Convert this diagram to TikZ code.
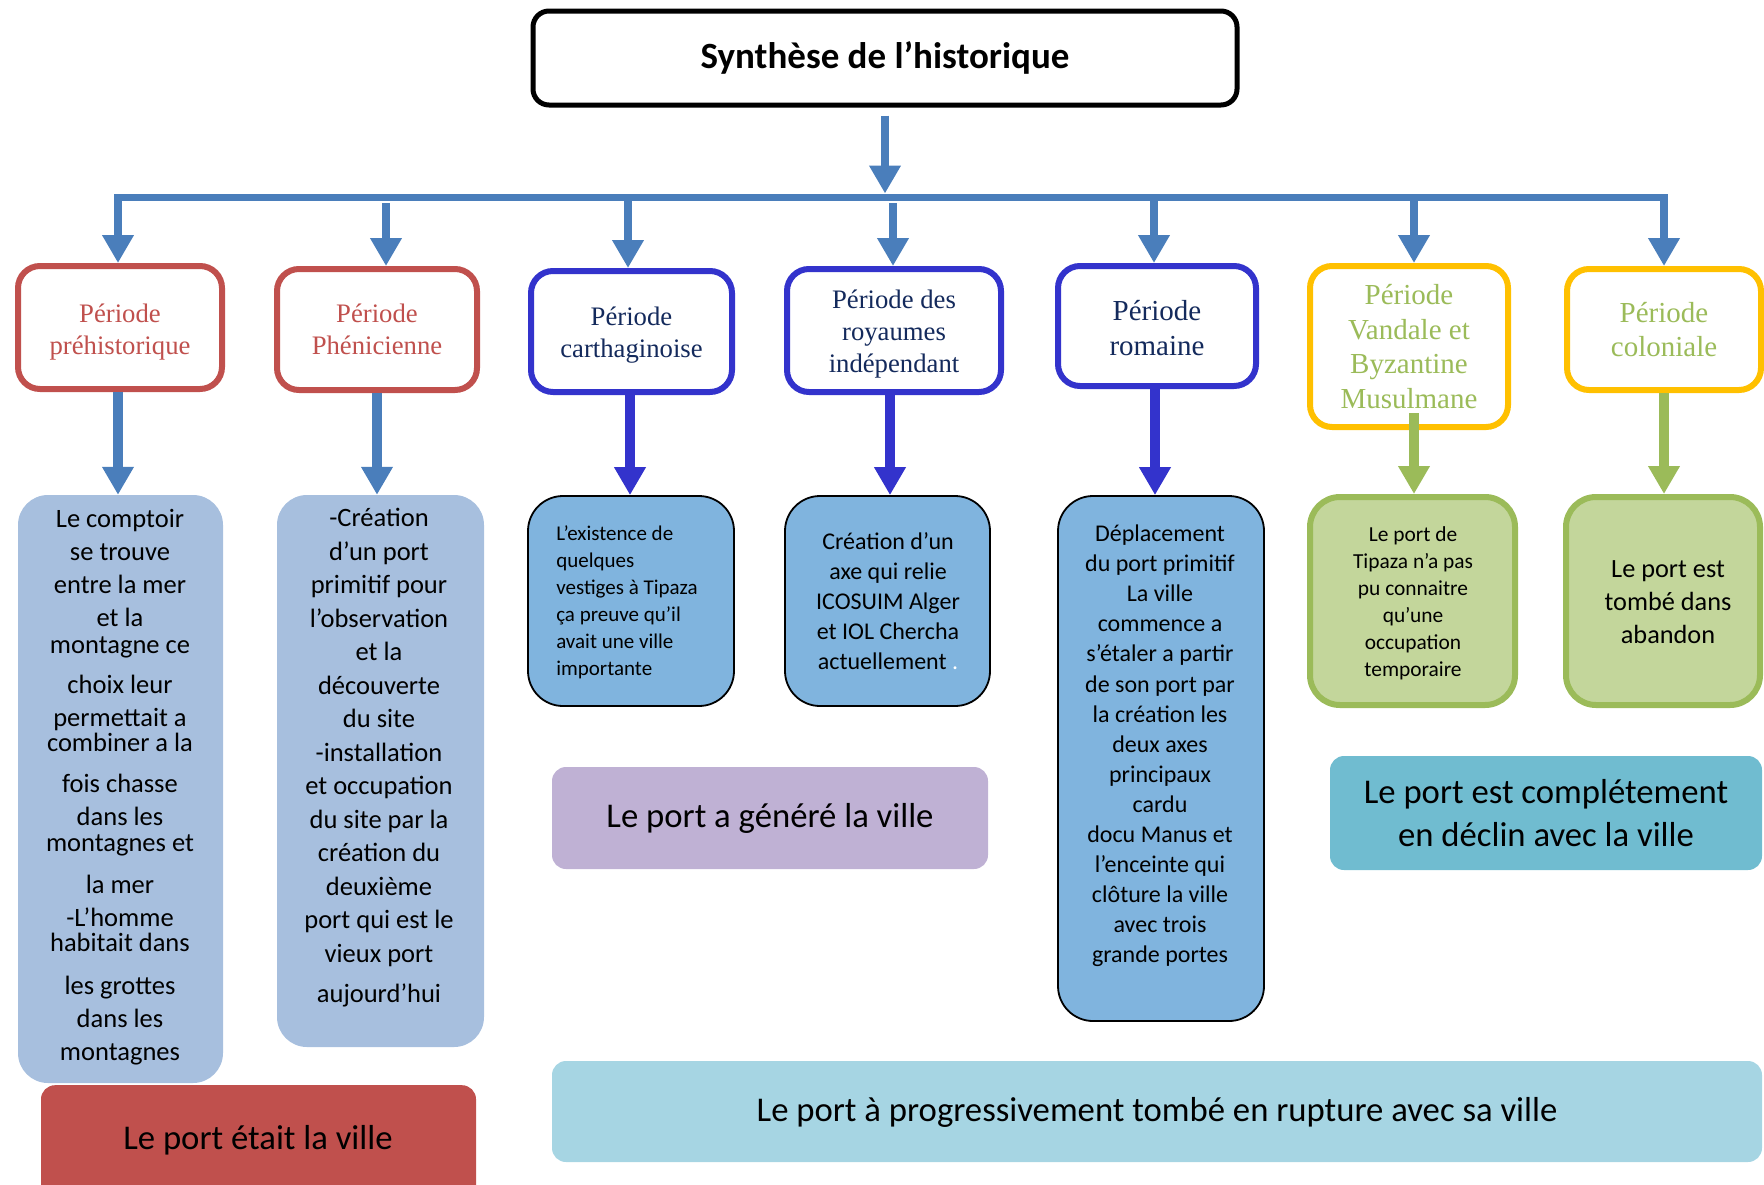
\documentclass[tikz,border=0pt]{standalone}
\usepackage{fontspec}
\setmainfont{Carlito}
\newfontfamily\serifp{Liberation Serif}
\usetikzlibrary{arrows.meta}
\definecolor{arrblue}{HTML}{4A7EBB}
\definecolor{pred}{HTML}{C0504D}
\definecolor{pblue}{HTML}{3333CC}
\definecolor{pnavy}{HTML}{142A5C}
\definecolor{pyel}{HTML}{FFC000}
\definecolor{pgreen}{HTML}{9BBB59}
\definecolor{fsteel}{HTML}{A7BFDE}
\definecolor{fblue}{HTML}{80B4DE}
\definecolor{fgreen}{HTML}{C3D69B}
\definecolor{flav}{HTML}{BFB1D4}
\definecolor{fteal}{HTML}{70BCD0}
\definecolor{fcyan}{HTML}{A6D5E3}
\begin{document}
\begin{tikzpicture}[x=1pt,y=-1pt,
  box/.style={rectangle, inner sep=0pt},
  perbox/.style={box, draw, line width=6pt, rounded corners=22pt, fill=white, align=center},
  redper/.style={perbox, draw=pred, text=pred, font=\serifp\fontsize{26.7}{32}\selectfont},
  blueper/.style={perbox, draw=pblue, text=pnavy, font=\serifp\fontsize{26.7}{32}\selectfont},
  blueperb/.style={perbox, draw=pblue, text=pnavy, font=\serifp\fontsize{29}{34.5}\selectfont},
  yelper/.style={perbox, draw=pyel, text=pgreen, font=\serifp\fontsize{29}{34.5}\selectfont},
  steelbox/.style={box, fill=fsteel, rounded corners=30pt},
  bluebox/.style={box, draw=black, line width=1.8pt, fill=fblue, rounded corners=35pt},
  greenbox/.style={box, draw=pgreen, line width=6pt, fill=fgreen, rounded corners=30pt},
  sumbox/.style={box, rounded corners=14pt, align=center, font=\fontsize{34.7}{43}\selectfont},
  txt/.style={inner sep=0pt, align=center},
  toparr/.style={draw=arrblue, line width=8pt, -{Triangle[width=30pt,length=28pt]}},
  lowarr/.style={line width=10pt, -{Triangle[width=30pt,length=28pt]}}
]
\useasboundingbox (0,0) rectangle (1764,1184);
\clip (0,0) rectangle (1764,1184);

% title
\node[box, draw=black, line width=5pt, rounded corners=16pt, minimum width=704pt, minimum height=94pt,
      text height=28pt, text depth=8pt,
      font=\bfseries\fontsize{37}{40}\selectfont] (title) at (885,58) {Synthèse de l’historique};

% period boxes
\node[redper, minimum width=204pt, minimum height=123pt] (p1) at (120,327.5) {\rule{0pt}{27.7pt}Période\\préhistorique};
\node[redper, minimum width=200pt, minimum height=121pt] (p2) at (377,329.5) {Période\\Phénicienne};
\node[blueper, minimum width=201pt, minimum height=121pt] (p3) at (631.5,331.5) {\rule{0pt}{25.7pt}Période\\carthaginoise};
\node[blueper, minimum width=214pt, minimum height=123pt] (p4) at (894,330.5) {\rule{0pt}{25.7pt}Période des\\royaumes\\indépendant};
\node[blueperb, minimum width=198pt, minimum height=120pt] (p5) at (1157,326) {\rule{0pt}{24.5pt}Période\\romaine};
\node[yelper, minimum width=198pt, minimum height=161pt] (p6) at (1409,346.5) {Période\\Vandale et\\Byzantine\\Musulmane};
\node[yelper, minimum width=194pt, minimum height=121pt] (p7) at (1664,329.5) {Période\\coloniale};

% content boxes
\node[steelbox, minimum width=205pt, minimum height=588pt] (c1) at (120.5,789) {};
\node[steelbox, minimum width=207pt, minimum height=552pt] (c2) at (380.5,771) {};
\node[bluebox, minimum width=206pt, minimum height=210pt] (c3) at (631,601) {};
\node[bluebox, minimum width=205pt, minimum height=210pt] (c4) at (887.5,601) {};
\node[bluebox, minimum width=206pt, minimum height=525pt] (c5) at (1161,758.5) {};
\node[greenbox, minimum width=205pt, minimum height=208pt] (c6) at (1412.5,601) {};
\node[greenbox, minimum width=194pt, minimum height=208pt] (c7) at (1663,601) {};

% content texts
\node[txt, font=\fontsize{26.5}{33}\selectfont] (t1) at (120,787) {Le comptoir\\se trouve\\entre la mer\\et la\\[-6pt]montagne ce\\[7pt]choix leur\\permettait a\\[-8pt]combiner a la\\[8pt]fois chasse\\dans les\\[-7pt]montagnes et\\[9pt]la mer\\-L’homme\\[-8pt]habitait dans\\[10pt]les grottes\\dans les\\montagnes};
\node[txt, font=\fontsize{26.5}{33.5}\selectfont] (t2) at (379,758) {-Création\\d’un port\\primitif pour\\l’observation\\et la\\découverte\\du site\\-installation\\et occupation\\du site par la\\création du\\deuxième\\port qui est le\\vieux port\\[7pt]aujourd’hui};
\node[txt, align=left, font=\fontsize{21}{27}\selectfont] (t3) at (627,602) {L’existence de\\quelques\\vestiges à Tipaza\\ça preuve qu’il\\avait une ville\\importante};
\node[txt, font=\fontsize{24}{30}\selectfont] (t4) at (888,601.5) {Création d’un\\axe qui relie\\ICOSUIM Alger\\et IOL Chercha\\actuellement {\color{white}.}};
\node[txt, font=\fontsize{24}{30.1}\selectfont] (t5) at (1160,746) {Déplacement\\du port primitif\\La ville\\commence a\\s’étaler a partir\\de son port par\\la création les\\deux axes\\principaux\\cardu\\docu Manus et\\l’enceinte qui\\clôture la ville\\avec trois\\grande portes};
\node[txt, font=\fontsize{21.4}{27}\selectfont] (t6) at (1413,603) {Le port de\\Tipaza n’a pas\\pu connaitre\\qu’une\\occupation\\temporaire};
\node[txt, font=\fontsize{26.3}{33}\selectfont] (t7) at (1668,602.5) {Le port est\\tombé dans\\abandon};

% summary boxes
\node[sumbox, fill=flav, minimum width=436pt, minimum height=102pt, text height=24pt, text depth=6pt] (s1) at (770,818) {Le port a généré la ville};
\node[sumbox, fill=fteal, minimum width=432pt, minimum height=114pt] (s2) at (1546,813) {Le port est complétement\\en déclin avec la ville};
\node[sumbox, fill=pred, minimum width=435pt, minimum height=130pt, anchor=north] (s3) at (258.5,1085) {};
\node[txt, font=\fontsize{34.7}{43}\selectfont] (s3t) at (258,1140.5) {Le port était la ville};
\node[sumbox, fill=fcyan, minimum width=1210pt, minimum height=101pt, text height=26.5pt, text depth=6pt] (s4) at (1157,1111.5) {Le port à progressivement tombé en rupture avec sa ville};

% top connectors
\coordinate (bl) at (114,197);
\coordinate (br) at (1668,197);
\coordinate (bartop) at (0,193.5);
\draw[arrblue, line width=7pt] (bl) -- (br);
\draw[toparr] ([yshift=-8pt]title.south) -- (title.south |- bartop);
\coordinate (a1) at (118,197);
\coordinate (a2) at (386,203);
\coordinate (a3) at (628,197);
\coordinate (a4) at (893,203);
\coordinate (a5) at (1154,197);
\coordinate (a6) at (1414,197);
\coordinate (a7) at (1664,197);
\draw[toparr] (a1) -- (a1 |- p1.north);
\draw[toparr] (a2) -- (a2 |- p2.north);
\draw[toparr] (a3) -- (a3 |- p3.north);
\draw[toparr] (a4) -- (a4 |- p4.north);
\draw[toparr] (a5) -- (a5 |- p5.north);
\draw[toparr] (a6) -- (a6 |- p6.north);
\draw[toparr] (a7) -- (a7 |- p7.north);

% lower connectors
\coordinate (x1) at (118,0);
\coordinate (x2) at (377,0);
\coordinate (x3) at (630,0);
\coordinate (x4) at (890,0);
\coordinate (x5) at (1155,0);
\coordinate (v6) at (1414,413);
\coordinate (x7) at (1664,0);
\draw[lowarr, arrblue] (x1 |- p1.south) -- (x1 |- c1.north);
\draw[lowarr, arrblue] (x2 |- p2.south) -- (x2 |- c2.north);
\draw[lowarr, pblue] (x3 |- p3.south) -- (x3 |- c3.north);
\draw[lowarr, pblue] (x4 |- p4.south) -- (x4 |- c4.north);
\draw[lowarr, pblue] (x5 |- p5.south) -- (x5 |- c5.north);
\draw[lowarr, pgreen] (v6) -- (v6 |- c6.north);
\draw[lowarr, pgreen] (x7 |- p7.south) -- (x7 |- c7.north);
\end{tikzpicture}
\end{document}
